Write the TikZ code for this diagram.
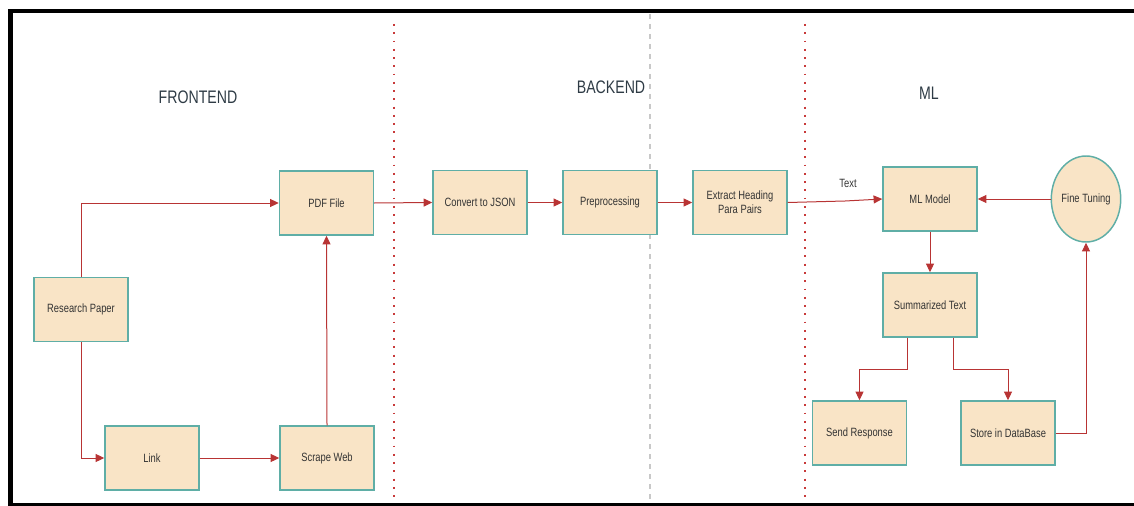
\documentclass[tikz,border=0pt]{standalone}
\usepackage{fontspec}
\setmainfont{Liberation Sans}[FakeStretch=0.78]
\usetikzlibrary{arrows.meta,calc,shapes.geometric}
\definecolor{boxfill}{HTML}{F9E4C6}
\definecolor{boxline}{HTML}{5FAEA6}
\definecolor{arr}{HTML}{B83434}
\definecolor{txt}{HTML}{333333}
\definecolor{sectxt}{HTML}{2E3B45}
\definecolor{divred}{HTML}{C83A3A}
\definecolor{divgray}{HTML}{C8C8C8}
\tikzset{
  procbox/.style={draw=boxline, fill=boxfill, line width=1.1pt, minimum width=70.5pt, minimum height=48pt, inner sep=1pt, align=center, font=\fontsize{9}{10.5}\selectfont, text=txt},
  ovalbox/.style={ellipse, draw=boxline, fill=boxfill, line width=1.1pt, minimum width=47.5pt, minimum height=64.5pt, inner sep=0pt, align=center, font=\fontsize{9}{10.5}\selectfont, text=txt},
  flow/.style={draw=arr, line width=0.75pt, -{Triangle[length=6.5pt,width=6pt]}},
  section/.style={font=\fontsize{13.6}{15}\selectfont, text=sectxt},
  reddiv/.style={draw=divred, line width=1.4pt, dash pattern=on 1.4pt off 4.8pt},
  graydiv/.style={draw=divgray, line width=1.1pt, dash pattern=on 3.5pt off 4pt},
}
\begin{document}
\begin{tikzpicture}[x=0.75pt,y=-0.75pt]
\useasboundingbox (0,0) rectangle (1134,506);
% frame
\fill[black] (8,9) rectangle (1134,13);
\fill[black] (8,9) rectangle (13,506);
\fill[black] (8,503) rectangle (1134,506);
% dividers
\coordinate (d1t) at (394,24);
\coordinate (d1b) at (394,500);
\coordinate (d2t) at (650,14);
\coordinate (d2b) at (650,500);
\coordinate (d3t) at (805,24);
\coordinate (d3b) at (805,500);
\draw[reddiv] (d1t) -- (d1b);
\draw[graydiv] (d2t) -- (d2b);
\draw[reddiv] (d3t) -- (d3b);
% section titles
\node[section] (fe) at (198,97) {FRONTEND};
\node[section] (be) at (611,87) {BACKEND};
\node[section] (mlt) at (929,93) {ML};
% boxes
\node[procbox] (pdf) at (326.5,203) {PDF File};
\node[procbox] (rp) at (81,309.5) {Research Paper};
\node[procbox] (link) at (152,458) {Link};
\node[procbox] (sw) at (327,458) {Scrape Web};
\node[procbox] (json) at (480,202.5) {Convert to JSON};
\node[procbox] (pre) at (610,202.5) {Preprocessing};
\node[procbox] (ex) at (740,202.5) {Extract Heading\\Para Pairs};
\node[procbox] (ml) at (930,199) {ML Model};
\node[ovalbox] (ft) at (1086,199) {Fine Tuning};
\node[procbox] (sum) at (930,305) {Summarized Text};
\node[procbox] (send) at (859.5,433) {Send Response};
\node[procbox] (db) at (1008,433) {Store in DataBase};
% connectors
\draw[flow] (rp.north) |- (pdf.west);
\draw[flow] (rp.south) |- (link.west);
\draw[flow] (link.east) -- (sw.west);
\draw[flow] (sw.north) -- (pdf.south);
\draw[flow] (pdf.east) -- (json.west);
\draw[flow] (json.east) -- (pre.west);
\draw[flow] (pre.east) -- (ex.west);
\coordinate (bend) at (845,201);
\draw[flow] (ex.east) -- (bend) -- (ml.west);
\node[font=\fontsize{9}{10}\selectfont, text=txt] (tl) at (848,183) {Text};
\draw[flow] (ft.west) -- (ml.east);
\draw[flow] (ml.south) -- (sum.north);
\draw[flow] ($(sum.south)+(-23,0)$) -- ++(0,32) -| (send.north);
\draw[flow] ($(sum.south)+(23,0)$) -- ++(0,32) -| (db.north);
\draw[flow] (db.east) -| (ft.south);
\end{tikzpicture}
\end{document}
